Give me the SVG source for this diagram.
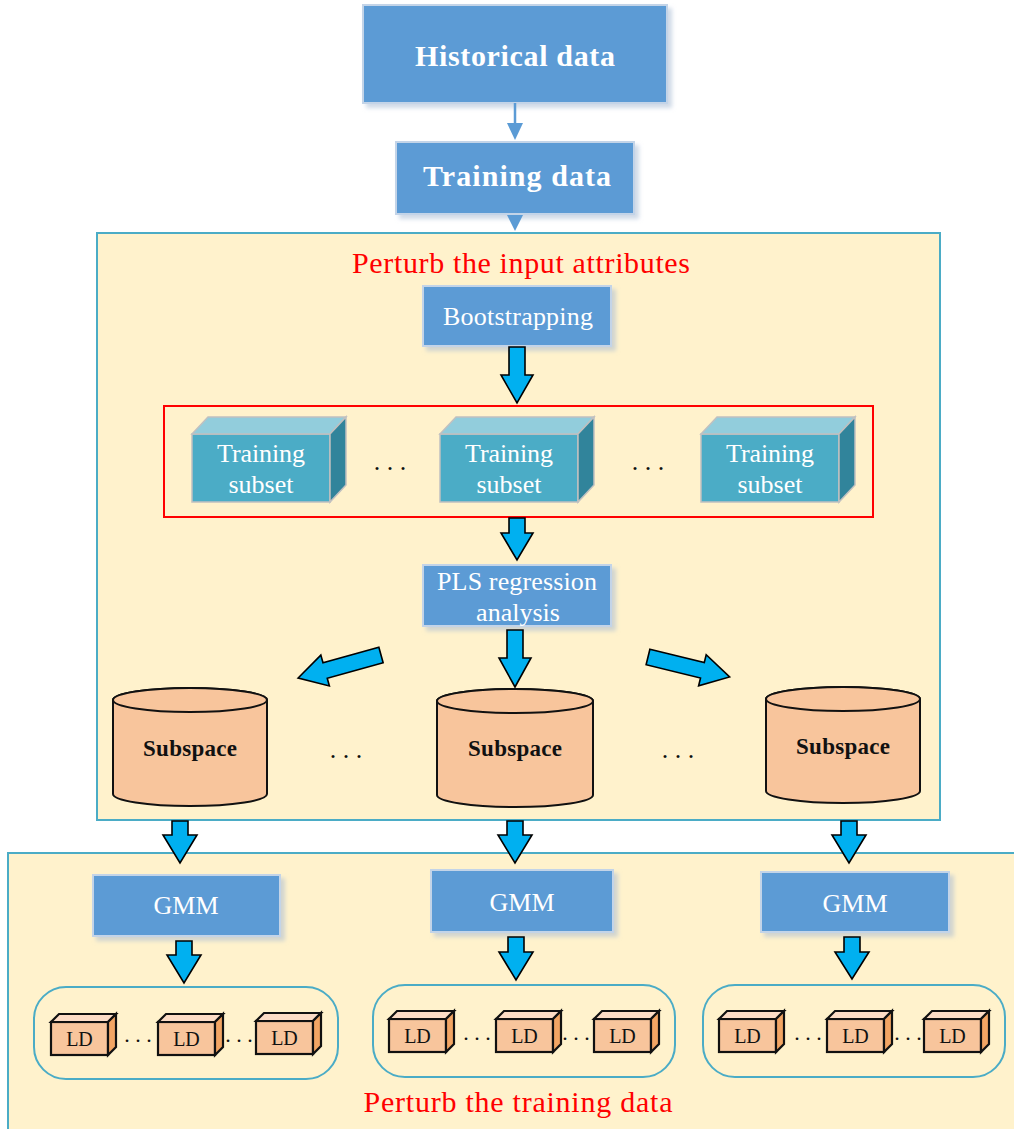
<svg xmlns="http://www.w3.org/2000/svg" xmlns:xlink="http://www.w3.org/1999/xlink" width="1014" height="1129" viewBox="0 0 1014 1129">
<style>
.panel{fill:#FFF2CC;stroke:#4BACC6;stroke-width:2}
.box{fill:#5B9BD5;stroke:#C3D4E8;stroke-width:2;filter:url(#sh)}
.wt{font-family:"Liberation Serif","Times New Roman",serif;fill:#fff;text-anchor:middle}
.bt{font-weight:bold}
.red{font-family:"Liberation Serif","Times New Roman",serif;fill:#FF0000;text-anchor:middle;font-size:30px}
.blk{font-family:"Liberation Serif","Times New Roman",serif;fill:#111;text-anchor:middle}
.barrow{fill:#00B0F0;stroke:#000;stroke-width:1.6;stroke-linejoin:miter}
.cyl{fill:#F8C59C;stroke:#111;stroke-width:2}
.ldf{fill:#F8C59C;stroke:#111;stroke-width:2.2;stroke-linejoin:miter}
.ldt{fill:#FCDCC6;stroke:#111;stroke-width:2.2;stroke-linejoin:miter}
.lds{fill:#F2A564;stroke:#111;stroke-width:2.2;stroke-linejoin:miter}
.cont{fill:none;stroke:#4BACC6;stroke-width:2}
.dots{font-family:"Liberation Serif","Times New Roman",serif;fill:#111;text-anchor:middle}
</style>
<defs>
<filter id="sh" x="-10%" y="-10%" width="125%" height="130%">
<feDropShadow dx="4" dy="4" stdDeviation="2" flood-color="#A8BCD4" flood-opacity="0.55"/>
</filter>
<g id="ts">
<rect x="0" y="0" width="138" height="68" fill="#4BACC6" stroke="#C0C0C0" stroke-width="1.5"/>
<polygon points="0,0 16,-17 154,-17 138,0" fill="#92CDDC" stroke="#C0C0C0" stroke-width="1.5"/>
<polygon points="138,0 154,-17 154,51 138,68" fill="#31849B" stroke="#C0C0C0" stroke-width="1.5"/>
</g>
<g id="ld">
<rect class="ldf" x="0" y="0" width="57" height="33"/>
<polygon class="ldt" points="0,0 8,-8 65,-8 57,0"/>
<polygon class="lds" points="57,0 65,-8 65,25 57,33"/>
</g>
</defs>

<rect x="0" y="0" width="1014" height="1129" fill="#fff"/>

<g id="panel-input">
<rect class="panel" x="97" y="233" width="843" height="587"/>
<text class="red" x="521" y="273" textLength="338" lengthAdjust="spacing">Perturb the input attributes</text>
</g>
<g id="panel-training">
<rect class="panel" x="8" y="853" width="1014" height="290"/>
<text class="red" x="518" y="1112" font-size="29" textLength="309" lengthAdjust="spacing">Perturb the training data</text>
</g>

<g id="historical">
<rect class="box" x="363" y="5" width="304" height="98"/>
<text class="wt bt" x="515" y="66" font-size="30" textLength="200" lengthAdjust="spacing">Historical data</text>
</g>
<g id="training">
<rect class="box" x="396" y="142" width="238" height="72"/>
<text class="wt bt" x="517" y="186" font-size="30" textLength="188" lengthAdjust="spacing">Training data</text>
</g>
<g id="bootstrapping">
<rect class="box" x="423" y="286" width="188" height="60"/>
<text class="wt" x="518" y="325" font-size="26" textLength="150" lengthAdjust="spacing">Bootstrapping</text>
</g>

<g id="subsets">
<rect x="164" y="406" width="709" height="111" fill="none" stroke="#FF0000" stroke-width="2"/>
<g id="subset1">
<use xlink:href="#ts" x="192" y="434"/>
<text class="wt" x="261" y="462" font-size="26" textLength="88" lengthAdjust="spacing">Training</text>
<text class="wt" x="261" y="493" font-size="26">subset</text>
</g>
<g id="subset2">
<use xlink:href="#ts" x="440" y="434"/>
<text class="wt" x="509" y="462" font-size="26" textLength="88" lengthAdjust="spacing">Training</text>
<text class="wt" x="509" y="493" font-size="26">subset</text>
</g>
<g id="subset3">
<use xlink:href="#ts" x="701" y="434"/>
<text class="wt" x="770" y="462" font-size="26" textLength="88" lengthAdjust="spacing">Training</text>
<text class="wt" x="770" y="493" font-size="26">subset</text>
</g>
<text class="dots" x="390" y="470" font-size="26">. . .</text>
<text class="dots" x="648" y="470" font-size="26">. . .</text>
</g>

<g id="pls">
<rect class="box" x="423" y="565" width="188" height="61"/>
<text class="wt" x="517" y="590" font-size="26" textLength="160" lengthAdjust="spacing">PLS regression</text>
<text class="wt" x="518" y="621" font-size="26">analysis</text>
</g>

<g id="subspace1">
<path class="cyl" d="M113,700 A77,12 0 0 1 267,700 V794 A77,12 0 0 1 113,794 Z"/>
<ellipse class="cyl" cx="190" cy="700" rx="77" ry="12"/>
<text class="blk bt" x="190" y="756" font-size="23" textLength="94" lengthAdjust="spacing">Subspace</text>
</g>
<g id="subspace2">
<path class="cyl" d="M437,701 A78,12 0 0 1 593,701 V795 A78,12 0 0 1 437,795 Z"/>
<ellipse class="cyl" cx="515" cy="701" rx="78" ry="12"/>
<text class="blk bt" x="515" y="756" font-size="23" textLength="94" lengthAdjust="spacing">Subspace</text>
</g>
<g id="subspace3">
<path class="cyl" d="M766,699 A77,12 0 0 1 920,699 V791 A77,12 0 0 1 766,791 Z"/>
<ellipse class="cyl" cx="843" cy="699" rx="77" ry="12"/>
<text class="blk bt" x="843" y="754" font-size="23" textLength="94" lengthAdjust="spacing">Subspace</text>
</g>
<text class="dots" x="346" y="758" font-size="26">. . .</text>
<text class="dots" x="678" y="758" font-size="26">. . .</text>

<g id="gmm1">
<rect class="box" x="93" y="875" width="187" height="61"/>
<text class="wt" x="186" y="914" font-size="26">GMM</text>
</g>
<g id="gmm2">
<rect class="box" x="431" y="870" width="182" height="62"/>
<text class="wt" x="522" y="911" font-size="26">GMM</text>
</g>
<g id="gmm3">
<rect class="box" x="761" y="872" width="188" height="60"/>
<text class="wt" x="855" y="912" font-size="26">GMM</text>
</g>

<g id="ldgroup1">
<rect class="cont" x="34" y="987" width="304" height="92" rx="32"/>
<use xlink:href="#ld" x="51" y="1022"/><text class="blk" x="79.5" y="1046" font-size="20">LD</text>
<use xlink:href="#ld" x="158" y="1022"/><text class="blk" x="186.5" y="1046" font-size="20">LD</text>
<use xlink:href="#ld" x="256" y="1021"/><text class="blk" x="284.5" y="1045" font-size="20">LD</text>
<text class="dots" x="138" y="1042" font-size="22">. . .</text>
<text class="dots" x="239" y="1042" font-size="22">. . .</text>
</g>
<g id="ldgroup2">
<rect class="cont" x="373" y="985" width="302" height="92" rx="32"/>
<use xlink:href="#ld" x="389" y="1019"/><text class="blk" x="417.5" y="1043" font-size="20">LD</text>
<use xlink:href="#ld" x="496" y="1019"/><text class="blk" x="524.5" y="1043" font-size="20">LD</text>
<use xlink:href="#ld" x="594" y="1019"/><text class="blk" x="622.5" y="1043" font-size="20">LD</text>
<text class="dots" x="477" y="1040" font-size="22">. . .</text>
<text class="dots" x="576" y="1040" font-size="22">. . .</text>
</g>
<g id="ldgroup3">
<rect class="cont" x="703" y="985" width="302" height="92" rx="32"/>
<use xlink:href="#ld" x="719" y="1019"/><text class="blk" x="747.5" y="1043" font-size="20">LD</text>
<use xlink:href="#ld" x="827" y="1019"/><text class="blk" x="855.5" y="1043" font-size="20">LD</text>
<use xlink:href="#ld" x="924" y="1019"/><text class="blk" x="952.5" y="1043" font-size="20">LD</text>
<text class="dots" x="808" y="1040" font-size="22">. . .</text>
<text class="dots" x="908" y="1040" font-size="22">. . .</text>
</g>

<g id="connectors">
<line x1="515" y1="103" x2="515" y2="126" stroke="#5B9BD5" stroke-width="2.5"/>
<polygon points="507,123 523,123 515,140" fill="#5B9BD5"/>
<polygon points="507,215 523,215 515,231" fill="#5B9BD5"/>
<path class="barrow" d="M509,347 H525 V375 H533 L517,403 L501,375 H509 Z"/>
<path class="barrow" d="M509,518 H525 V533 H533 L517,560 L501,533 H509 Z"/>
<path class="barrow" d="M507,630 H523 V658 H531 L515,687 L499,658 H507 Z"/>
<path class="barrow" transform="translate(381,655) rotate(164.5)" d="M0,-8 H58 V-16 L86,0 L58,16 V8 H0 Z"/>
<path class="barrow" transform="translate(648,657) rotate(13.7)" d="M0,-8 H56 V-16 L84,0 L56,16 V8 H0 Z"/>
<path class="barrow" d="M172,821 H188 V835 H197 L180,863 L163,835 H172 Z"/>
<path class="barrow" d="M507,821 H523 V835 H532 L515,863 L498,835 H507 Z"/>
<path class="barrow" d="M841,821 H857 V835 H866 L849,863 L832,835 H841 Z"/>
<path class="barrow" d="M176,941 H192 V955 H201 L184,983 L167,955 H176 Z"/>
<path class="barrow" d="M508,937 H524 V952 H533 L516,980 L499,952 H508 Z"/>
<path class="barrow" d="M844,937 H860 V952 H869 L852,979 L835,952 H844 Z"/>
</g>
</svg>
